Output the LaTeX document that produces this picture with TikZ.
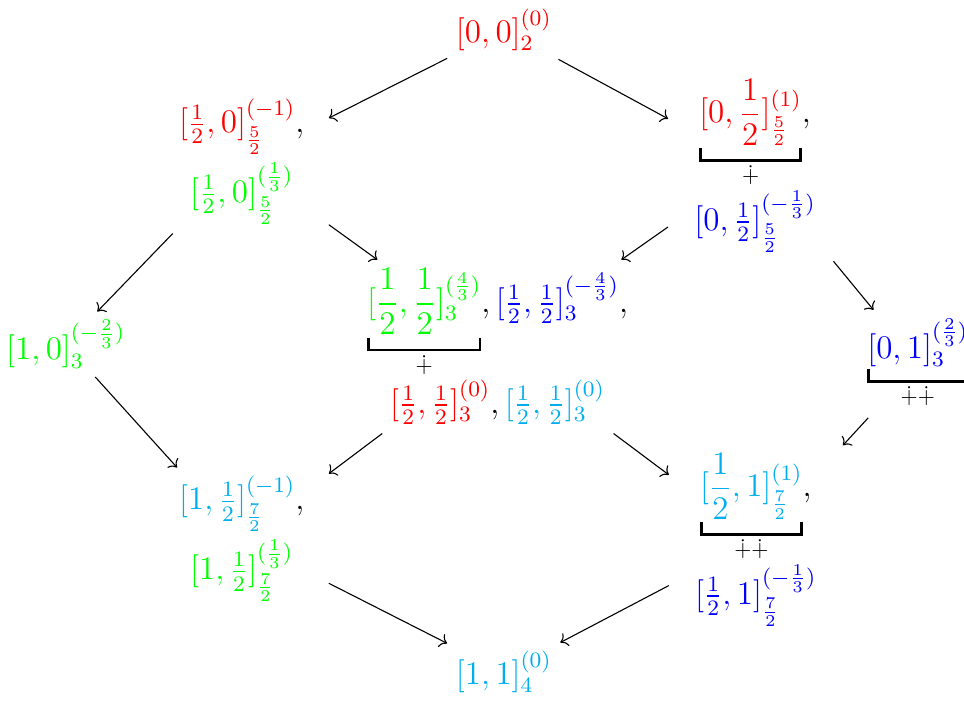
\documentclass[tikz,border=0pt]{standalone}
\usepackage{amsmath,amssymb,mathtools}
\usetikzlibrary{positioning, arrows.meta}
\definecolor{skyb}{RGB}{0,174,239}

\begin{document}
\begin{tikzpicture}[
    lat/.style={align=center, inner sep=3pt, font=\large},
    wide/.style={lat, text width=2cm},
    line/.style={->}
]
    \useasboundingbox (0,0) rectangle (12.32,-8.97);
    \node[lat] (n00) at (6.44,-0.38) {$\textcolor{red}{[0,0]_{2}^{(0)}}$};
    \node[wide] (n10) at (3.09,-2.07) {$\textcolor{red}{[\frac12,0]_{\frac52}^{(-1)}},$\\[2pt] $\textcolor{green}{[\frac12,0]_{\frac52}^{(\frac13)}}$};
    \node[wide] (n01) at (9.65,-2.12) {$\underbracket[1pt][4pt]{\textcolor{red}{[0,\dfrac12]_{\frac52}^{(1)}}}_{\dotplus},$\\ $\textcolor{blue}{[0,\frac12]_{\frac52}^{(-\frac13)}}$};
    \node[lat] (n20) at (0.84,-4.40) {$\textcolor{green}{[1,0]_3^{(-\frac23)}}$};
    \node[lat] (n11) at (6.36,-4.43) {$\underbracket[1pt][4pt]{\textcolor{green}{[\dfrac12,\dfrac12]_3^{(\frac43)}}}_{\dotplus},\textcolor{blue}{[\frac12,\frac12]_3^{(-\frac43)}},$\\ $\textcolor{red}{[\frac12,\frac12]_3^{(0)}},\textcolor{skyb}{[\frac12,\frac12]_3^{(0)}}$};
    \node[lat] (n02) at (11.73,-4.65) {$\underbracket[1pt][4pt]{\textcolor{blue}{[0,1]_3^{(\frac23)}}}_{\dotplus\dotplus}$};
    \node[wide] (n21) at (3.09,-6.89) {$\textcolor{skyb}{[1,\frac12]_{\frac72}^{(-1)}},$\\[2pt] $\textcolor{green}{[1,\frac12]_{\frac72}^{(\frac13)}}$};
    \node[wide] (n12) at (9.66,-6.90) {$\underbracket[1pt][4pt]{\textcolor{skyb}{[\dfrac12,1]_{\frac72}^{(1)}}}_{\dotplus\dotplus},$\\ $\textcolor{blue}{[\frac12,1]_{\frac72}^{(-\frac13)}}$};
    \node[lat] (n22) at (6.44,-8.59) {$\textcolor{skyb}{[1,1]_4^{(0)}}$};

    \draw[line] (n00) -- (n10);
    \draw[line] (n00) -- (n01);
    \draw[line] (n10) -- (n20);
    \draw[line] (n10) -- (n11);
    \draw[line] (n01) -- (n11);
    \draw[line] (n01) -- (n02);
    \draw[line] (n20) -- (n21);
    \draw[line] (n11) -- (n21);
    \draw[line] (n11) -- (n12);
    \draw[line] (n02) -- (n12);
    \draw[line] (n21) -- (n22);
    \draw[line] (n12) -- (n22);
\end{tikzpicture}
\end{document}
